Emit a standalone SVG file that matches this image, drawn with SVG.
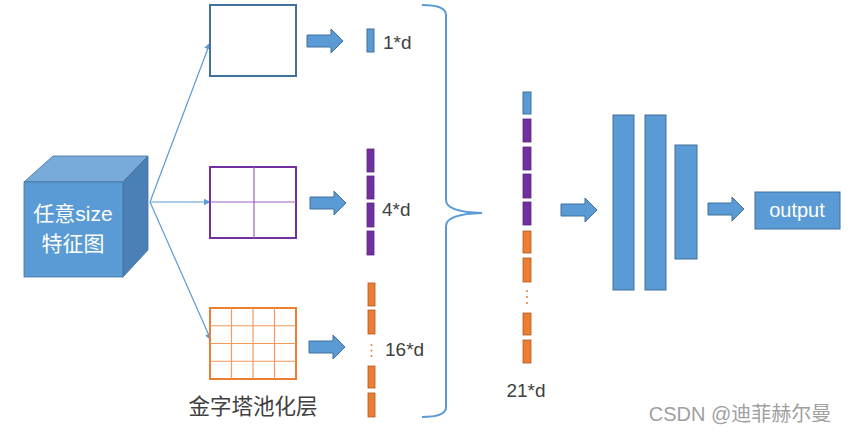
<svg xmlns="http://www.w3.org/2000/svg" width="850" height="434" viewBox="0 0 850 434">
<style>
.lbl{font-family:"Liberation Sans","Noto Sans CJK SC",sans-serif;font-size:19px;fill:#404040}
.cjk{font-family:"Noto Sans CJK SC",sans-serif;fill:#404040}
.wt{font-family:"Liberation Sans","Noto Sans CJK SC",sans-serif;fill:#ffffff}
.conn{stroke:#5B9BD5;stroke-width:1.2;fill:none}
.blu{fill:#5B9BD5;stroke:#41719C;stroke-width:1}
.pur{fill:#7030A0;stroke:#5a2680;stroke-width:0.8}
.org{fill:#ED7D31;stroke:#ae5a22;stroke-width:0.8}
</style>
<defs>
<marker id="ah" viewBox="0 0 10 10" refX="9" refY="5" markerWidth="6" markerHeight="6" orient="auto">
<path d="M0,0 L10,5 L0,10 Z" fill="#5B9BD5"/>
</marker>
<path id="barrow" d="M0,-6 H24 V-12 L36,0 L24,12 V6 H0 Z" fill="#5B9BD5" stroke="#41719C" stroke-width="1"/>
</defs>
<rect width="850" height="434" fill="#ffffff"/>

<g id="cube">
<polygon points="24,182 53,156 148,156 123,182" fill="#78AADA" stroke="#41719C" stroke-width="0.8"/>
<polygon points="123,182 148,156 148,250 123,277" fill="#4A80B5" stroke="#41719C" stroke-width="0.8"/>
<rect x="24" y="182" width="99" height="95" fill="#5B9BD5" stroke="#41719C" stroke-width="0.8"/>
<text class="wt" x="73" y="221" font-size="21" text-anchor="middle">任意size</text>
<text class="wt" x="73" y="251" font-size="21" text-anchor="middle">特征图</text>
</g>

<g id="connectors">
<line class="conn" x1="150" y1="202" x2="210" y2="43" marker-end="url(#ah)"/>
<line class="conn" x1="150" y1="202" x2="210" y2="202" marker-end="url(#ah)"/>
<line class="conn" x1="150" y1="202" x2="211" y2="340" marker-end="url(#ah)"/>
<use href="#barrow" transform="translate(307,41)"/>
<use href="#barrow" transform="translate(310,203)"/>
<use href="#barrow" transform="translate(309,347)"/>
<use href="#barrow" transform="translate(561,210)"/>
<use href="#barrow" transform="translate(708,209)"/>
</g>

<g id="pool1">
<rect x="210" y="5" width="86" height="71" fill="#ffffff" stroke="#41719C" stroke-width="2"/>
</g>

<g id="pool2">
<rect x="210" y="167" width="86" height="71" fill="#ffffff" stroke="#7030A0" stroke-width="2"/>
<line x1="254" y1="167" x2="254" y2="238" stroke="#9a62c0" stroke-width="1.2"/>
<line x1="210" y1="202" x2="296" y2="202" stroke="#9a62c0" stroke-width="1.2"/>
</g>

<g id="pool3">
<rect x="210" y="308" width="86" height="71" fill="#ffffff" stroke="#ED7D31" stroke-width="2"/>
<g stroke="#F09A5E" stroke-width="1.2">
<line x1="231.5" y1="308" x2="231.5" y2="379"/>
<line x1="253" y1="308" x2="253" y2="379"/>
<line x1="274.5" y1="308" x2="274.5" y2="379"/>
<line x1="210" y1="325.75" x2="296" y2="325.75"/>
<line x1="210" y1="343.5" x2="296" y2="343.5"/>
<line x1="210" y1="361.25" x2="296" y2="361.25"/>
</g>
<text class="cjk" x="253" y="414" font-size="21.5" text-anchor="middle">金字塔池化层</text>
</g>

<g id="vec1">
<rect class="blu" x="367" y="29" width="7" height="23"/>
<text class="lbl" x="383" y="49">1*d</text>
</g>

<g id="vec4">
<rect class="pur" x="367" y="149" width="7" height="23"/>
<rect class="pur" x="367" y="176" width="7" height="23"/>
<rect class="pur" x="367" y="203" width="7" height="24"/>
<rect class="pur" x="367" y="231" width="7" height="24"/>
<text class="lbl" x="382" y="216">4*d</text>
</g>

<g id="vec16">
<rect class="org" x="368" y="283" width="7" height="23"/>
<rect class="org" x="368" y="310" width="7" height="24"/>
<g fill="#ED7D31"><circle cx="371.5" cy="345" r="1"/><circle cx="371.5" cy="350.5" r="1"/><circle cx="371.5" cy="356" r="1"/></g>
<rect class="org" x="368" y="366" width="7" height="22"/>
<rect class="org" x="368" y="393" width="7" height="24"/>
<text class="lbl" x="385" y="356">16*d</text>
</g>

<g id="brace">
<path d="M422,5 Q446,5 446,15 V200 Q446,212 482,213 Q446,214 446,226 V407 Q446,417 422,417" fill="none" stroke="#5B9BD5" stroke-width="2"/>
</g>

<g id="vec21">
<rect class="blu" x="523" y="92" width="8" height="22"/>
<rect class="pur" x="523" y="119" width="8" height="23"/>
<rect class="pur" x="523" y="147" width="8" height="23"/>
<rect class="pur" x="523" y="174" width="8" height="24"/>
<rect class="pur" x="523" y="202" width="8" height="23"/>
<rect class="org" x="523" y="231" width="8" height="22"/>
<rect class="org" x="523" y="258" width="8" height="24"/>
<g fill="#ED7D31"><circle cx="527" cy="291" r="1"/><circle cx="527" cy="297" r="1"/><circle cx="527" cy="303" r="1"/></g>
<rect class="org" x="523" y="313" width="8" height="22"/>
<rect class="org" x="523" y="340" width="8" height="23"/>
<text class="lbl" x="526" y="397" text-anchor="middle">21*d</text>
</g>

<g id="fc">
<rect class="blu" x="613" y="115" width="21" height="175"/>
<rect class="blu" x="645" y="115" width="21" height="175"/>
<rect class="blu" x="675" y="145" width="22" height="114"/>
</g>

<g id="output">
<rect class="blu" x="755" y="192" width="85" height="37"/>
<text class="wt" x="797" y="217" font-size="20" text-anchor="middle">output</text>
</g>

<text x="740" y="421" font-family="'Liberation Sans','Noto Sans CJK SC',sans-serif" font-size="20" fill="#a0a0a0" text-anchor="middle">CSDN @迪菲赫尔曼</text>
</svg>
